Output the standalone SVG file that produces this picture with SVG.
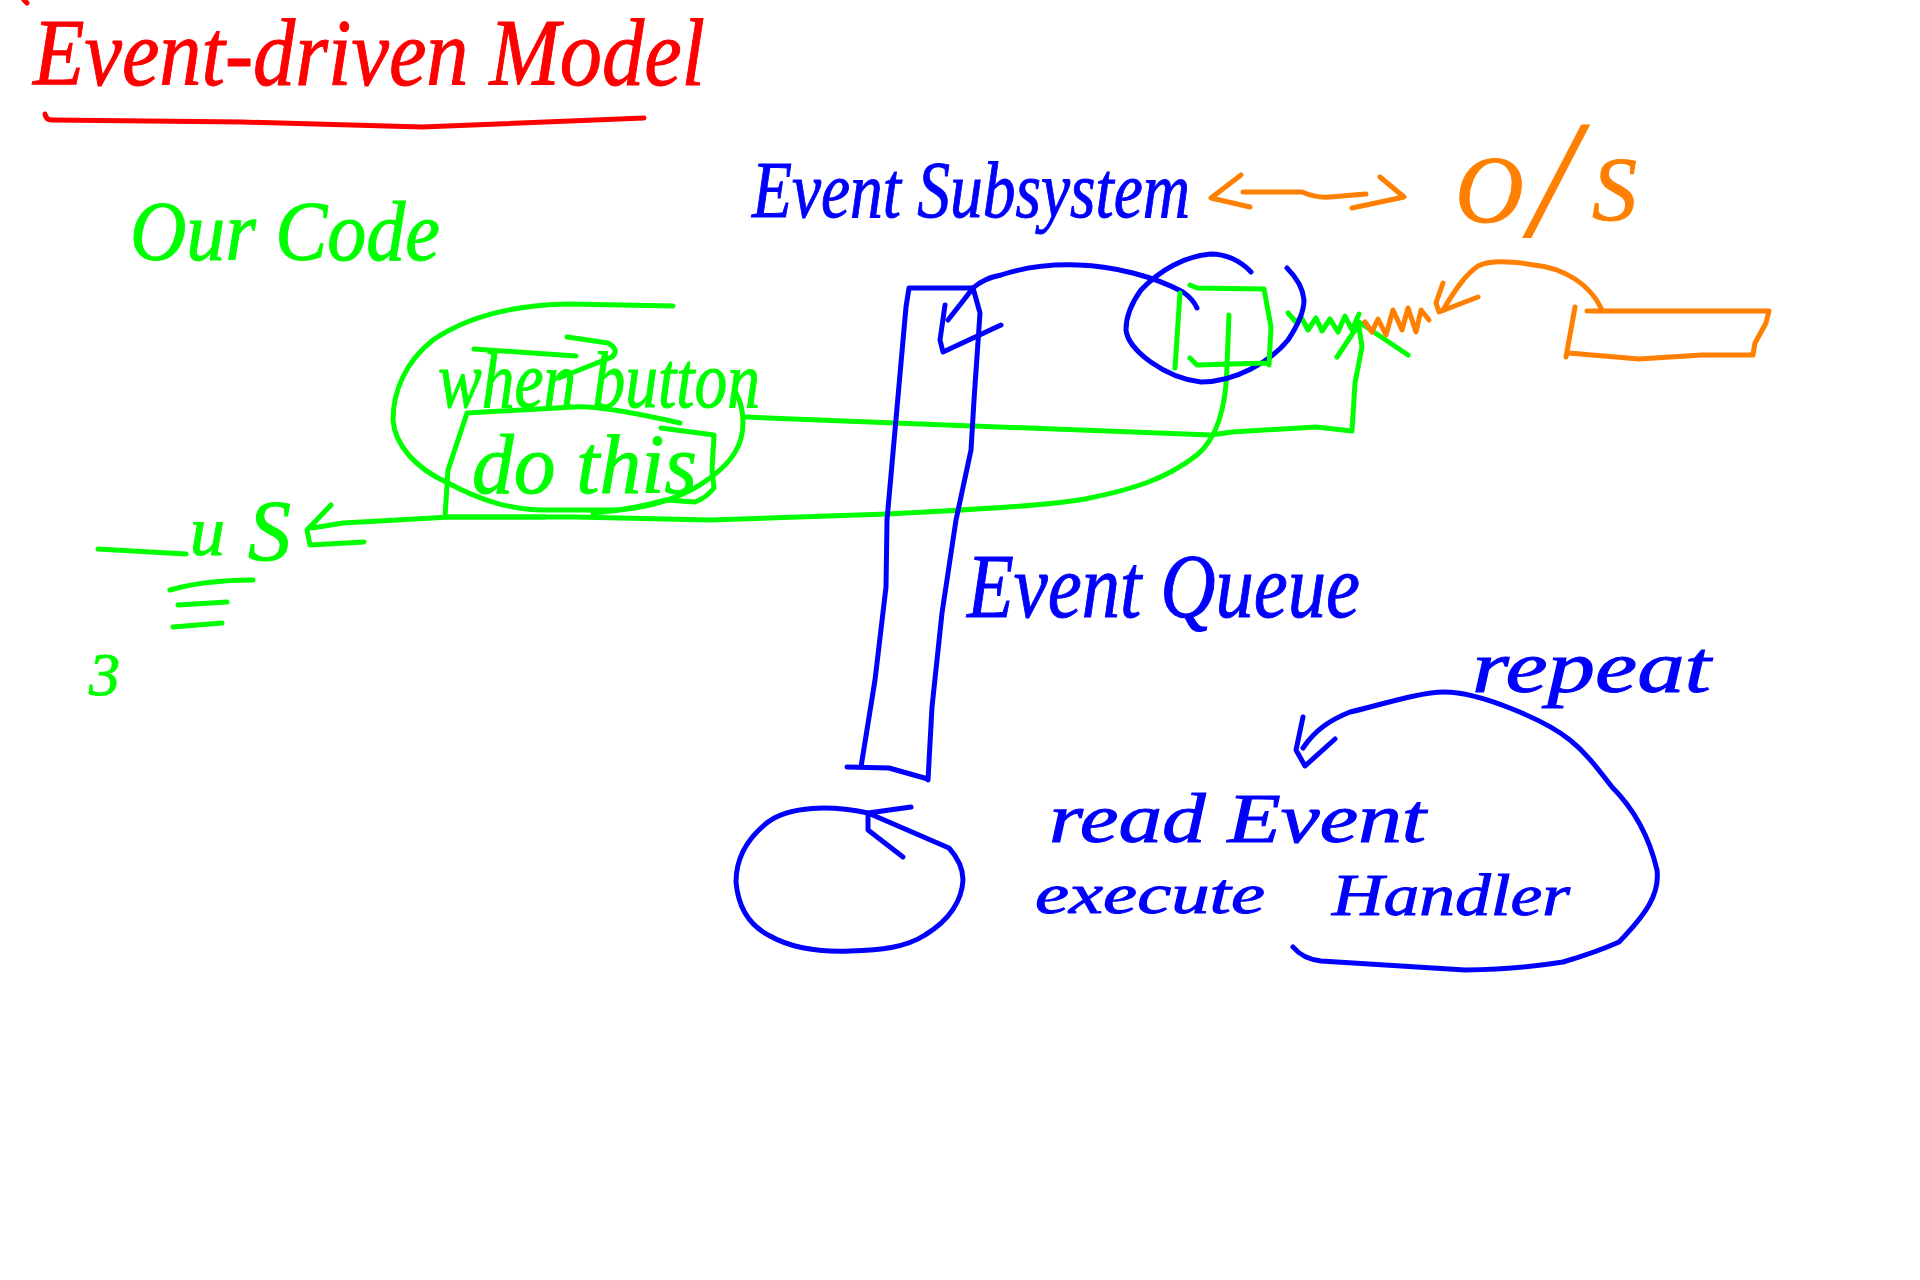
<svg xmlns="http://www.w3.org/2000/svg" width="1920" height="1280" viewBox="0 0 1920 1280">
<style>
.s{fill:none;stroke-width:5;stroke-linecap:round;stroke-linejoin:round}
.r{stroke:#ff0000}.g{stroke:#00ff00}.b{stroke:#0000ff}.o{stroke:#ff8000}
text{font-family:"Liberation Serif",serif;font-style:italic;stroke-width:1}
.tr{fill:#ff0000;stroke:#ff0000}.tg{fill:#00ff00;stroke:#00ff00}.tb{fill:#0000ff;stroke:#0000ff}.to{fill:#ff8000;stroke:#ff8000}
</style>
<rect width="1920" height="1280" fill="#ffffff"/>
<g id="title">
<path class="s r" d="M24 0L27 3"/>
<text class="tr" x="33" y="85" font-size="95" textLength="672" lengthAdjust="spacingAndGlyphs">Event-driven Model</text>
<path class="s r" d="M45 114Q46 120 52 120L242 122L422 127L644 118"/>
</g>
<g id="our-code">
<text class="tg" x="130" y="260" font-size="85" textLength="310" lengthAdjust="spacingAndGlyphs">Our Code</text>
<path id="callback-oval" class="s g" d="M673 306L569 304C510 305 465 318 433 340C405 362 393 392 393 420C395 445 415 468 448 483C480 500 510 510 545 510L617 510C650 508 685 497 710 478C732 462 743 445 743 423C743 412 741 402 736 393"/>
<text class="tg" x="438" y="407" font-size="80" textLength="322" lengthAdjust="spacingAndGlyphs">when button</text>
<path class="s g" d="M474 349L576 356M567 337L608 343Q620 350 612 357L559 378"/>
<path class="s g" d="M680 423Q600 405 574 407L467 413L448 470L445 517L545 517"/>
<path class="s g" d="M661 428L714 435L712 470L714 488Q706 498 695 502L666 500Q630 510 593 513"/>
<text class="tg" x="472" y="493" font-size="85" textLength="225" lengthAdjust="spacingAndGlyphs">do this</text>
</g>
<g id="use-block">
<path class="s g" d="M98 549L186 554M170 590Q205 580 253 580M178 605L227 602M173 627L222 623"/>
<text class="tg" y="555"><tspan x="190" font-size="70">u</tspan><tspan x="248" font-size="86" dy="5">S</tspan></text>
<text class="tg" x="89" y="695" font-size="62">3</text>
</g>
<g id="connectors">
<path class="s g" d="M1229 315L1227 367C1226 410 1215 440 1197 455C1165 480 1130 490 1085 499C1050 505 1000 508 888 514L710 520L575 517L450 517L343 523L312 528"/>
<path class="s g" d="M331 505L307 530L310 545L364 542"/>
<path class="s g" d="M746 417L895 423L1211 435L1232 432L1316 427L1352 431L1355 383L1362 347L1359 327"/>
<path class="s g" d="M1337 357L1355 330L1359 322L1408 355"/>
<path class="s g" d="M1288 313L1296 322L1301 317L1308 330L1316 318L1322 331L1330 319L1338 332L1345 316L1352 330L1359 314"/>
<path class="s o" d="M1365 322L1372 332L1378 319L1386 335L1393 310L1402 330L1408 308L1416 332L1421 310L1429 320"/>
<path class="s o" d="M1601 308C1590 285 1565 268 1534 265C1510 261 1490 260 1478 266C1465 275 1455 290 1443 310"/>
<path class="s o" d="M1443 283L1436 303L1439 312L1478 297"/>
<path class="s o" d="M1241 175L1211 198L1250 207M1243 192L1302 192Q1316 198 1330 197L1366 194M1380 177L1404 197L1352 208"/>
<path class="s b" d="M973 288C982 280 990 277 1001 275C1025 267 1050 264 1078 265C1115 266 1155 277 1183 292Q1193 299 1197 308"/>
<path class="s b" d="M973 288Q960 305 948 320M945 305L940 340L943 352L1001 325"/>
<path class="s b" d="M868 813C830 805 790 806 768 822C745 840 736 860 736 882C738 905 748 925 770 936C795 950 825 952 850 951C880 950 905 948 925 935C950 920 962 900 963 880C963 868 958 858 949 848L868 813"/>
<path class="s b" d="M911 807L868 813L868 830L903 857"/>
<path class="s b" d="M1293 947Q1303 959 1321 961L1465 970Q1520 969 1563 962Q1597 952 1619 942C1645 915 1660 895 1657 870C1650 840 1635 810 1612 787C1595 765 1585 752 1570 740C1545 720 1480 692 1444 692C1420 692 1380 705 1350 712C1330 720 1315 730 1303 748"/>
<path class="s b" d="M1303 717L1296 750L1305 766L1335 739"/>
</g>
<g id="event-subsystem">
<text class="tb" x="752" y="217" font-size="80" textLength="438" lengthAdjust="spacingAndGlyphs">Event Subsystem</text>
<path class="s b" d="M1251 272C1240 260 1225 254 1211 254C1185 256 1160 270 1141 290C1130 305 1126 320 1126 330C1128 350 1165 378 1201 382C1235 382 1270 362 1288 340C1298 325 1304 312 1304 300C1303 288 1296 277 1287 268"/>
<path class="s g" d="M1190 285L1197 288L1264 289L1271 327L1269 365M1190 358L1197 365L1267 363M1180 293L1175 368"/>
</g>
<g id="os">
<text class="to"><tspan x="1455" y="222" font-size="95">O</tspan><tspan x="1530" y="236" font-size="170" stroke-width="0">/</tspan><tspan x="1592" y="220" font-size="90">S</tspan></text>
<path id="os-box" class="s o" d="M1587 311L1681 311L1769 311L1766 323L1755 343L1753 355L1702 355L1639 359L1569 353M1566 357L1575 307"/>
</g>
<g id="event-queue">
<path class="s b" d="M909 288L906 307L887 520L886 587L875 680L861 767M847 767L889 768L928 779M909 288L973 288L980 313L974 400L971 450L956 520L942 613L932 707L928 780"/>
<text class="tb" x="967" y="617" font-size="90" textLength="393" lengthAdjust="spacingAndGlyphs">Event Queue</text>
</g>
<g id="event-loop">
<text class="tb" x="1049" y="842" font-size="70" textLength="377" lengthAdjust="spacingAndGlyphs">read Event</text>
<text class="tb" x="1035" y="913" font-size="56" textLength="230" lengthAdjust="spacingAndGlyphs">execute</text>
<text class="tb" x="1332" y="915" font-size="60" textLength="238" lengthAdjust="spacingAndGlyphs">Handler</text>
<text class="tb" x="1472" y="692" font-size="75" textLength="239" lengthAdjust="spacingAndGlyphs">repeat</text>
</g>
</svg>
